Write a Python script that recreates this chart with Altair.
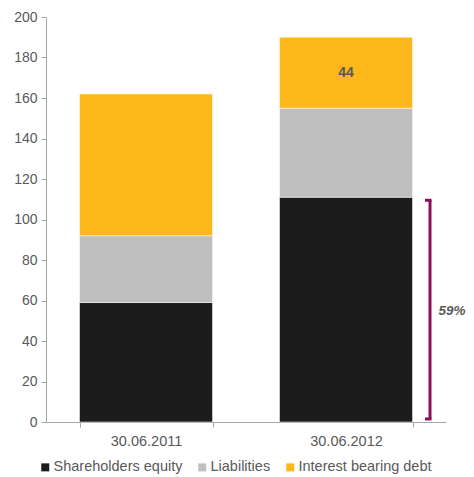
import altair as alt
import pandas as pd

dates = ["30.06.2011", "30.06.2012"]
series = ["Shareholders equity", "Liabilities", "Interest bearing debt"]
colors = ["#1C1C1C", "#BFBFBF", "#FDB71A"]
equity = [59, 111]
liabilities = [33, 44]
debt = [70, 35]

rows = []
for i, d in enumerate(dates):
    for k, (s, vals) in enumerate(zip(series, [equity, liabilities, debt])):
        rows.append({"date": d, "series": s, "value": vals[i], "order": k})
df = pd.DataFrame(rows)

# annotation data
label_df = pd.DataFrame({"date": ["30.06.2012"], "y": [equity[1] + liabilities[1] + debt[1] / 2], "text": ["44"]})
bracket_df = pd.DataFrame({"date": ["30.06.2012"], "y0": [1.5], "y1": [109.5]})
pct_df = pd.DataFrame({"date": ["30.06.2012"], "y": [55], "text": ["59%"]})

grey = "#595959"
font = "Liberation Sans"
purple = "#8C0D5C"

x_scale = alt.Scale(domain=dates, paddingInner=0.335, paddingOuter=0.1675)
y_scale = alt.Scale(domain=[0, 200])

bars = alt.Chart(df).mark_bar(stroke="white", strokeWidth=0.5).encode(
    x=alt.X("date:N", scale=x_scale, sort=dates,
            axis=alt.Axis(title=None, labelAngle=0, tickBand="extent", domainColor="#A6A6A6",
                          tickColor="#A6A6A6", tickSize=5, labelPadding=7, labelFontSize=14.5,
                          labelColor=grey, labelFont=font)),
    y=alt.Y("value:Q", stack="zero", scale=y_scale,
            axis=alt.Axis(title=None, values=list(range(0, 201, 20)), grid=False, domainColor="#A6A6A6",
                          tickColor="#A6A6A6", tickSize=5, labelPadding=4, labelFontSize=14,
                          labelColor=grey, labelFont=font)),
    color=alt.Color("series:N", scale=alt.Scale(domain=series, range=colors),
                    legend=alt.Legend(title=None, orient="none", direction="horizontal",
                                      legendX=-8, legendY=443, symbolType="square", symbolSize=64,
                                      symbolStrokeWidth=0, labelFontSize=14.5, labelColor=grey,
                                      labelFont=font, columnPadding=12, symbolOffset=0, labelOffset=1)),
    order=alt.Order("order:Q"),
)

label = alt.Chart(label_df).mark_text(fontWeight="bold", fontSize=14, color=grey, font=font).encode(
    x=alt.X("date:N", scale=x_scale, sort=dates), y=alt.Y("y:Q", scale=y_scale), text="text:N")

vline = alt.Chart(bracket_df).mark_rule(color=purple, strokeWidth=3, xOffset=84).encode(
    x=alt.X("date:N", scale=x_scale, sort=dates), y=alt.Y("y0:Q", scale=y_scale), y2="y1:Q")
top_tick = alt.Chart(bracket_df).mark_rule(color=purple, strokeWidth=3, xOffset=79, x2Offset=85.5).encode(
    x=alt.X("date:N", scale=x_scale, sort=dates), x2="date:N", y=alt.Y("y1:Q", scale=y_scale))
bot_tick = alt.Chart(bracket_df).mark_rule(color=purple, strokeWidth=3, xOffset=79, x2Offset=85.5).encode(
    x=alt.X("date:N", scale=x_scale, sort=dates), x2="date:N", y=alt.Y("y0:Q", scale=y_scale))

pct = alt.Chart(pct_df).mark_text(fontWeight="bold", fontStyle="italic", fontSize=13.5, color=grey,
                                  font=font, xOffset=106).encode(
    x=alt.X("date:N", scale=x_scale, sort=dates), y=alt.Y("y:Q", scale=y_scale), text="text:N")

chart = alt.layer(bars, label, vline, top_tick, bot_tick, pct).properties(
    width=400, height=405,
    autosize=alt.AutoSizeParams(type="none"),
    padding={"left": 38, "top": 9, "right": 20, "bottom": 56},
).configure_view(stroke=None)

chart.save("out.html", embed_options={"renderer": "svg", "actions": False})
